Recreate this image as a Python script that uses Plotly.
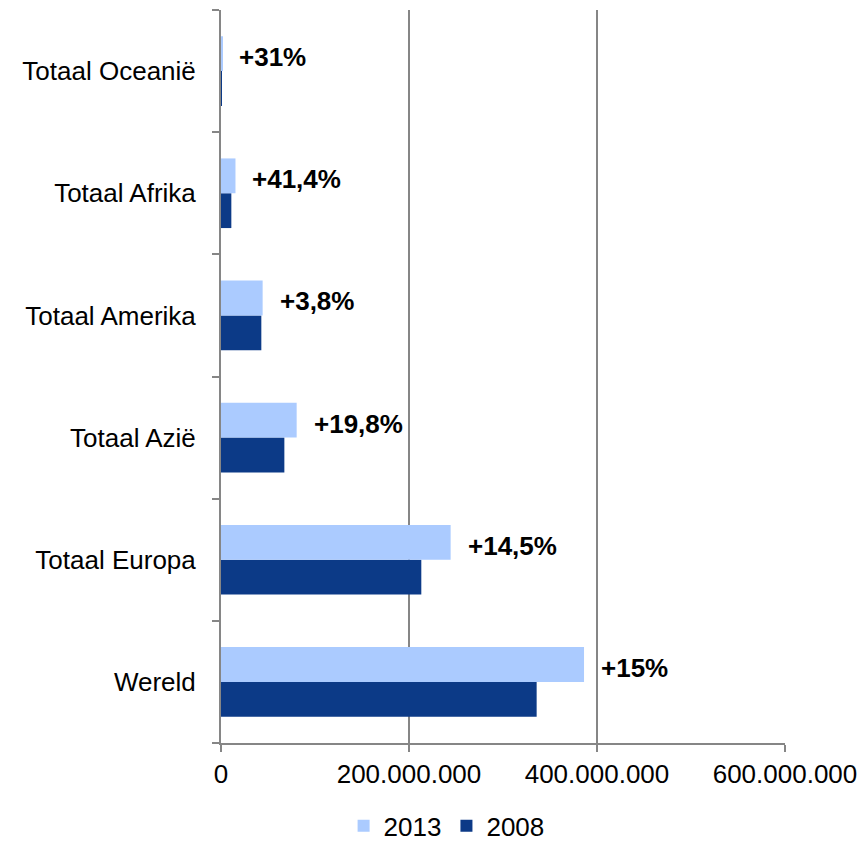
import plotly.graph_objects as go

regions = ["Wereld", "Totaal Europa", "Totaal Azië", "Totaal Amerika", "Totaal Afrika", "Totaal Oceanië"]
v2008 = [335.8e6, 213.1e6, 67.4e6, 42.9e6, 11.0e6, 0.9e6]
v2013 = [386.2e6, 244.3e6, 80.5e6, 44.3e6, 15.4e6, 1.2e6]
growth = ["+15%", "+14,5%", "+19,8%", "+3,8%", "+41,4%", "+31%"]
x_ticks = [0, 200e6, 400e6, 600e6]

grey = "#868686"

fig = go.Figure()
fig.add_trace(go.Bar(y=regions, x=v2008, name="2008", orientation="h",
                     marker=dict(color="#0C3A87", line=dict(width=0))))
fig.add_trace(go.Bar(y=regions, x=v2013, name="2013", orientation="h",
                     marker=dict(color="#ABCBFF", line=dict(width=0))))

for r, v, g in zip(regions, v2013, growth):
    fig.add_annotation(x=v, y=r, text="<b>" + g + "</b>", showarrow=False,
                       xanchor="left", xshift=15, yshift=14,
                       font=dict(size=26, color="black"))

fig.update_layout(
    width=860, height=841,
    barmode="group", bargap=0.43, bargroupgap=0,
    plot_bgcolor="white", paper_bgcolor="white",
    margin=dict(l=221, r=75, t=10, b=98, autoexpand=False),
    font=dict(family="Arial, Liberation Sans", size=26, color="black"),
    separators=",.",
    legend=dict(orientation="h", x=0.4, xanchor="center",
                yref="container", y=0.018, yanchor="middle",
                traceorder="reversed", font=dict(size=26)),
    xaxis=dict(range=[0, 600e6], tickvals=x_ticks, tickformat=",.0f",
               automargin=False,
               showgrid=True, gridcolor=grey, gridwidth=1.5, zeroline=False,
               showline=True, linecolor=grey, linewidth=2,
               ticks="outside", ticklen=7, tickcolor=grey, tickwidth=2),
    yaxis=dict(showline=True, linecolor=grey, linewidth=2, showgrid=False,
               automargin=False,
               ticks="outside", tickson="boundaries", ticklen=7,
               tickcolor=grey, tickwidth=2, ticklabelstandoff=18),
)

# drop the default 8px body margin so the figure fills the window
fig.write_html("out.html", config={"displayModeBar": False},
               post_script="document.body.style.margin='0';")
